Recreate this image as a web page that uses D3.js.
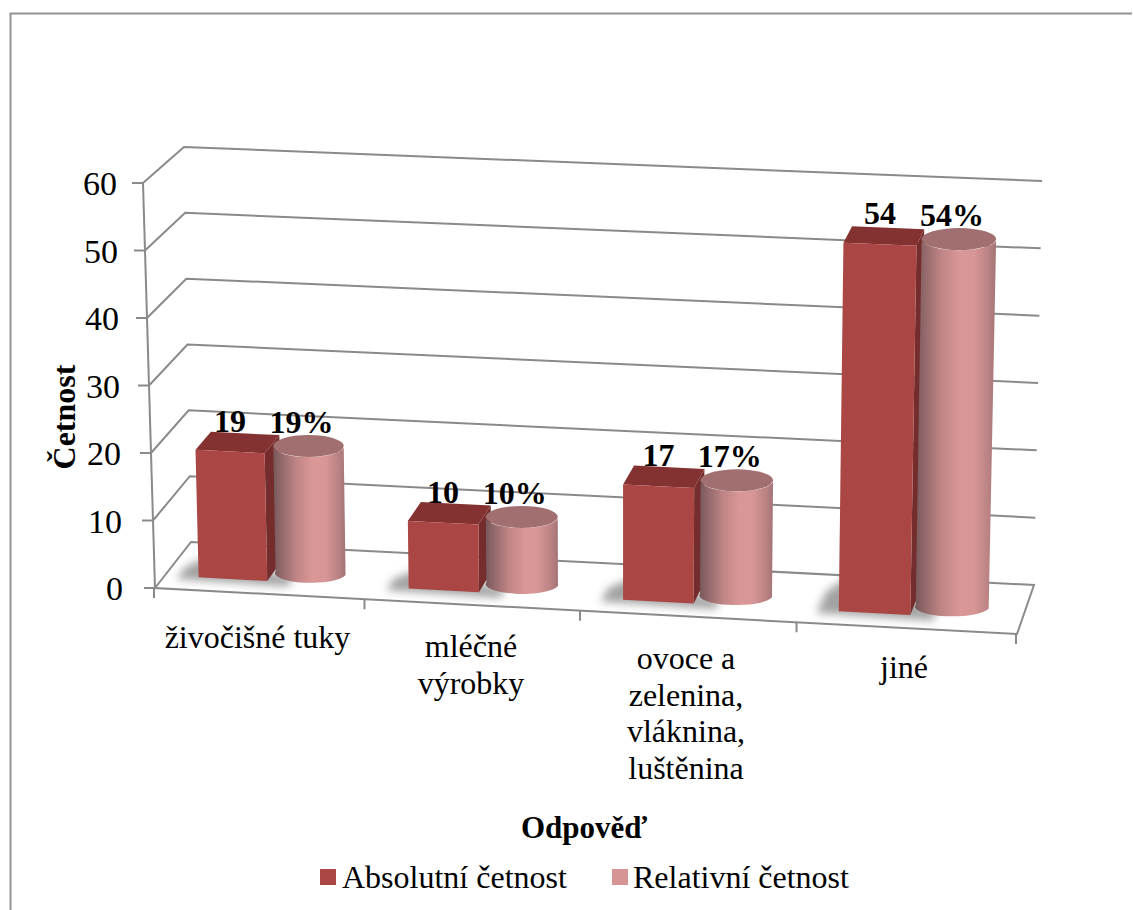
<!DOCTYPE html>
<html>
<head>
<meta charset="utf-8">
<script src="https://cdn.jsdelivr.net/npm/d3@7"></script>
<style>
html,body{margin:0;padding:0;background:#fff;}
svg{display:block;}
text{font-family:"Liberation Serif","Times New Roman",serif;fill:#000;}
</style>
</head>
<body>
<svg id="chart" width="1133" height="910"></svg>
<script>
// Survey answers
const categories = [["živočišné tuky"], ["mléčné", "výrobky"], ["ovoce a", "zelenina,", "vláknina,", "luštěnina"], ["jiné"]];
const absolute = [19, 10, 17, 54];
const relative = [19, 10, 17, 54];
const valueTicks = [0, 10, 20, 30, 40, 50, 60];
const seriesNames = ["Absolutní četnost", "Relativní četnost"];
const axisTitles = {x: "Odpověď", y: "Četnost"};

const W = 1133, H = 910;
const svg = d3.select("#chart");

// Corners of the 3D plot box: [across, depth, height] -> screen position
const corners = {
  fl0: [155, 588], fl1: [143, 183],
  bl0: [191, 542], bl1: [184, 147],
  br0: [1034, 585], br1: [1042, 181],
  fr0: [1017, 634], fr1: [1027, 220]
};
const v = d3.scaleLinear().domain([0, 60]).range([0, 1]);
// Slight perspective foreshortening across the width of the floor
const across = d3.scaleLinear().domain([0, 0.25, 0.5, 0.75, 1]).range([0, 0.2442, 0.4942, 0.7454, 1]);
const lerp = d3.interpolateArray;

// Trilinear mapping of plot coordinates to the screen
function project(u, d, value) {
  const t = v(value), a = across(u);
  const front = lerp(lerp(corners.fl0, corners.fl1)(t), lerp(corners.fr0, corners.fr1)(t))(a);
  const back = lerp(lerp(corners.bl0, corners.bl1)(t), lerp(corners.br0, corners.br1)(t))(a);
  return lerp(front, back)(d);
}
const pathOf = pts => "M" + pts.map(p => p[0].toFixed(2) + "," + p[1].toFixed(2)).join("L") + "Z";
const lineOf = pts => "M" + pts.map(p => p[0].toFixed(2) + "," + p[1].toFixed(2)).join("L");

const catScale = d3.scaleBand().domain(d3.range(categories.length)).range([0, 1]);
const barStart = 0.0405, barWidth = 0.082, cylCentre = 0.166, cylHalf = 0.042;
const dFront = 0.27, dBack = 0.69, dMid = 0.48;

const COL = {
  grid: "#8a8a8a", frame: "#939393",
  barFront: "#aa4643", barSide: "#742d2c", barTop: "#843231",
  cylTop: "#a26f70", legendRel: "#d69594"
};

// Defs: cylinder shading and the soft floor shadow
const defs = svg.append("defs");
const grad = defs.append("linearGradient").attr("id", "cyl").attr("x1", 0).attr("x2", 1).attr("y1", 0).attr("y2", 0);
[[0, "#75585a"], [0.12, "#93696b"], [0.32, "#bf8485"], [0.55, "#da9797"], [0.72, "#d99696"], [0.9, "#bb8384"], [1, "#a47476"]]
  .forEach(s => grad.append("stop").attr("offset", s[0]).attr("stop-color", s[1]));
defs.append("filter").attr("id", "soft").attr("x", "-40%").attr("y", "-60%").attr("width", "180%").attr("height", "220%")
  .append("feGaussianBlur").attr("stdDeviation", 4);

// Chart frame: open on the right and at the bottom
svg.append("path").attr("d", `M10.5,${H}V13.5H${W - 1}`)
  .attr("fill", "none").attr("stroke", COL.frame).attr("stroke-width", 2);

// Gridlines along the left wall and back wall
const grid = svg.append("g").attr("fill", "none").attr("stroke", COL.grid).attr("stroke-width", 2);
grid.selectAll("path.g").data(valueTicks.filter(t => t > 0)).join("path").attr("class", "g")
  .attr("d", t => lineOf([project(0, 0, t), project(0, 1, t), project(1, 1, t)]));
grid.append("path").attr("d", pathOf([project(0, 0, 0), project(0, 1, 0), project(1, 1, 0), project(1, 0, 0)]));

// Value axis with ticks and labels
grid.append("path").attr("d", lineOf([project(0, 0, 0), project(0, 0, 60)]));
const labelRight = d3.scaleLinear().domain([0, 60]).range([123, 117]);
valueTicks.forEach(t => {
  const p = project(0, 0, t);
  grid.append("path").attr("d", lineOf([[p[0] - 11, p[1]], p]));
  svg.append("text").attr("x", labelRight(t)).attr("y", p[1] + 12).attr("text-anchor", "end")
    .attr("font-size", 34).text(t);
});

// Category ticks along the front floor edge
d3.range(categories.length + 1).forEach(i => {
  const p = project(i / categories.length, 0, 0);
  grid.append("path").attr("d", lineOf([[p[0] - 1, p[1]], [p[0] - 1, p[1] + 10]]));
});

// Floor shadows, longer for taller columns
const shadows = svg.append("g").attr("filter", "url(#soft)").attr("fill", "#808080").attr("fill-opacity", 0.72);
absolute.forEach((val, i) => {
  const u0 = catScale(i) + barStart;
  const reach = 0.3 + val * 0.008;
  shadows.append("path").attr("d", pathOf([
    project(u0 - 0.024, dFront - 0.06, 0),
    project(u0 + 0.11, dFront - 0.09, 0),
    project(u0 + 0.11, dFront + 0.1, 0),
    project(u0 - 0.006, dFront + reach, 0),
    project(u0 - 0.024, dFront + reach * 0.5, 0)
  ]));
});

// Columns: square bar then cylinder for each answer
categories.forEach((_, i) => {
  const u0 = catScale(i) + barStart, u1 = u0 + barWidth;
  const val = absolute[i];
  const g = svg.append("g");
  g.append("path").attr("fill", COL.barSide)
    .attr("d", pathOf([project(u1, dFront, 0), project(u1, dBack, 0), project(u1, dBack, val), project(u1, dFront, val)]));
  g.append("path").attr("fill", COL.barTop)
    .attr("d", pathOf([project(u0, dFront, val), project(u0, dBack, val), project(u1, dBack, val), project(u1, dFront, val)]));
  g.append("path").attr("fill", COL.barFront)
    .attr("d", pathOf([project(u0, dFront, 0), project(u1, dFront, 0), project(u1, dFront, val), project(u0, dFront, val)]));

  const uc = catScale(i) + cylCentre, rel = relative[i];
  const bl = project(uc - cylHalf, dMid, 0), br = project(uc + cylHalf, dMid, 0);
  const tl = project(uc - cylHalf, dMid, rel), tr = project(uc + cylHalf, dMid, rel);
  const rx = (br[0] - bl[0]) / 2, rxTop = (tr[0] - tl[0]) / 2;
  const ryBottom = 9.5, ryTop = 11;
  const body = `M${tl[0]},${tl[1]}L${bl[0]},${bl[1]}A${rx},${ryBottom} 0 0 0 ${br[0]},${br[1]}L${tr[0]},${tr[1]}A${rxTop},${ryTop} 0 0 1 ${tl[0]},${tl[1]}Z`;
  g.append("path").attr("d", body).attr("fill", "url(#cyl)");
  const top = project(uc, dMid, rel);
  g.append("ellipse").attr("cx", top[0]).attr("cy", top[1]).attr("rx", rxTop).attr("ry", ryTop).attr("fill", COL.cylTop);
});

// Value labels above each column
const labels = svg.append("g").attr("font-weight", "bold").attr("font-size", 32).attr("text-anchor", "middle");
absolute.forEach((val, i) => {
  const p = project(catScale(i) + barStart + barWidth / 2, dFront, val);
  labels.append("text").attr("x", p[0]).attr("y", p[1] - 20).text(val);
});
relative.forEach((val, i) => {
  const p = project(catScale(i) + cylCentre, dMid, val);
  labels.append("text").attr("x", p[0] - 7).attr("y", p[1] - 13).text(val + "%");
});

// Category labels, stepping down with the floor edge
const catX = [257.5, 471, 686, 904], catY = [648, 657, 669, 678];
categories.forEach((lines, i) => {
  const t = svg.append("text").attr("font-size", 32).attr("text-anchor", "middle");
  lines.forEach((line, j) => t.append("tspan").attr("x", catX[i]).attr("y", catY[i] + j * 36.7).text(line));
});

// Axis titles
svg.append("text").attr("x", 584).attr("y", 838).attr("text-anchor", "middle")
  .attr("font-weight", "bold").attr("font-size", 31).text(axisTitles.x);
svg.append("text").attr("transform", "translate(75,417) rotate(-90)").attr("text-anchor", "middle")
  .attr("font-weight", "bold").attr("font-size", 32).text(axisTitles.y);

// Legend
const legend = svg.append("g");
[[320, 342, COL.barFront], [612, 633, COL.legendRel]].forEach((e, i) => {
  legend.append("rect").attr("x", e[0]).attr("y", 869).attr("width", 16).attr("height", 16).attr("fill", e[2]);
  legend.append("text").attr("x", e[1]).attr("y", 888).attr("font-size", 32).text(seriesNames[i]);
});
</script>
</body>
</html>
